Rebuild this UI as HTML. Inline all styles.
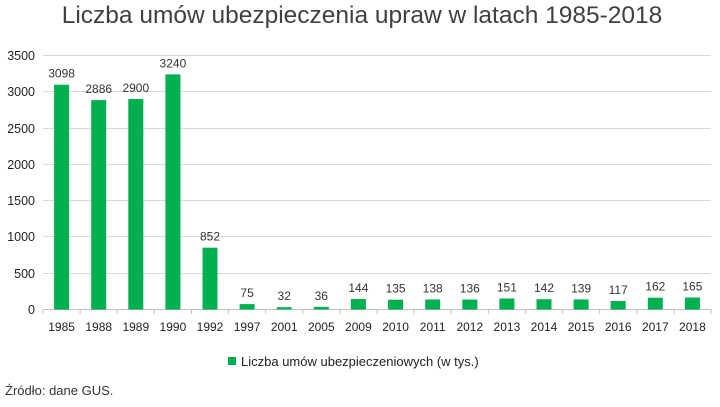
<!DOCTYPE html>
<html><head><meta charset="utf-8"><style>
body{margin:0;background:#fff;width:720px;height:402px;overflow:hidden;font-family:"Liberation Sans",sans-serif}
</style></head><body>
<svg width="720" height="402" xmlns="http://www.w3.org/2000/svg" font-family="Liberation Sans, sans-serif">
<text x="362" y="23" text-anchor="middle" font-size="24.5" fill="#404040">Liczba umów ubezpieczenia upraw w latach 1985-2018</text>
<g stroke="#d9d9d9" stroke-width="1">
<line x1="43" x2="711" y1="55.5" y2="55.5"/>
<line x1="43" x2="711" y1="91.5" y2="91.5"/>
<line x1="43" x2="711" y1="128.5" y2="128.5"/>
<line x1="43" x2="711" y1="164.5" y2="164.5"/>
<line x1="43" x2="711" y1="200.5" y2="200.5"/>
<line x1="43" x2="711" y1="236.5" y2="236.5"/>
<line x1="43" x2="711" y1="273.5" y2="273.5"/>
</g>
<line x1="43" x2="711" y1="309.5" y2="309.5" stroke="#bfbfbf"/>
<g stroke="#bfbfbf">
<line x1="43" x2="43" y1="309.5" y2="314"/><line x1="80.1" x2="80.1" y1="309.5" y2="314"/><line x1="117.2" x2="117.2" y1="309.5" y2="314"/><line x1="154.3" x2="154.3" y1="309.5" y2="314"/><line x1="191.4" x2="191.4" y1="309.5" y2="314"/><line x1="228.6" x2="228.6" y1="309.5" y2="314"/><line x1="265.7" x2="265.7" y1="309.5" y2="314"/><line x1="302.8" x2="302.8" y1="309.5" y2="314"/><line x1="339.9" x2="339.9" y1="309.5" y2="314"/><line x1="377" x2="377" y1="309.5" y2="314"/><line x1="414.1" x2="414.1" y1="309.5" y2="314"/><line x1="451.2" x2="451.2" y1="309.5" y2="314"/><line x1="488.3" x2="488.3" y1="309.5" y2="314"/><line x1="525.4" x2="525.4" y1="309.5" y2="314"/><line x1="562.6" x2="562.6" y1="309.5" y2="314"/><line x1="599.7" x2="599.7" y1="309.5" y2="314"/><line x1="636.8" x2="636.8" y1="309.5" y2="314"/><line x1="673.9" x2="673.9" y1="309.5" y2="314"/><line x1="711" x2="711" y1="309.5" y2="314"/>
</g>
<g font-size="12.5" fill="#222" text-anchor="end">
<text x="35" y="60">3500</text><text x="35" y="96">3000</text><text x="35" y="133">2500</text><text x="35" y="169">2000</text><text x="35" y="205">1500</text><text x="35" y="241">1000</text><text x="35" y="278">500</text><text x="35" y="314">0</text>
</g>
<g fill="#00b050">
<rect x="54.1" y="84.7" width="15" height="224.8"/>
<rect x="91.2" y="100.1" width="15" height="209.4"/>
<rect x="128.3" y="99" width="15" height="210.5"/>
<rect x="165.4" y="74.4" width="15" height="235.1"/>
<rect x="202.5" y="247.7" width="15" height="61.8"/>
<rect x="239.6" y="304.1" width="15" height="5.4"/>
<rect x="276.7" y="307.2" width="15" height="2.3"/>
<rect x="313.8" y="306.9" width="15" height="2.6"/>
<rect x="350.9" y="299" width="15" height="10.5"/>
<rect x="388.1" y="299.7" width="15" height="9.8"/>
<rect x="425.2" y="299.5" width="15" height="10"/>
<rect x="462.3" y="299.6" width="15" height="9.9"/>
<rect x="499.4" y="298.5" width="15" height="11"/>
<rect x="536.5" y="299.2" width="15" height="10.3"/>
<rect x="573.6" y="299.4" width="15" height="10.1"/>
<rect x="610.7" y="301" width="15" height="8.5"/>
<rect x="647.8" y="297.7" width="15" height="11.8"/>
<rect x="684.9" y="297.5" width="15" height="12"/>
</g>
<g fill="#333" font-size="12" text-anchor="middle">
<text x="61.6" y="77.7">3098</text><text x="98.7" y="93.1">2886</text><text x="135.8" y="92">2900</text><text x="172.9" y="67.4">3240</text><text x="210" y="240.7">852</text><text x="247.1" y="297.1">75</text><text x="284.2" y="300.2">32</text><text x="321.3" y="299.9">36</text><text x="358.4" y="292">144</text><text x="395.6" y="292.7">135</text><text x="432.7" y="292.5">138</text><text x="469.8" y="292.6">136</text><text x="506.9" y="291.5">151</text><text x="544" y="292.2">142</text><text x="581.1" y="292.4">139</text><text x="618.2" y="294">117</text><text x="655.3" y="290.7">162</text><text x="692.4" y="290.5">165</text>
</g>
<g fill="#222" font-size="12" text-anchor="middle">
<text x="61.6" y="331">1985</text><text x="98.7" y="331">1988</text><text x="135.8" y="331">1989</text><text x="172.9" y="331">1990</text><text x="210" y="331">1992</text><text x="247.1" y="331">1997</text><text x="284.2" y="331">2001</text><text x="321.3" y="331">2005</text><text x="358.4" y="331">2009</text><text x="395.6" y="331">2010</text><text x="432.7" y="331">2011</text><text x="469.8" y="331">2012</text><text x="506.9" y="331">2013</text><text x="544" y="331">2014</text><text x="581.1" y="331">2015</text><text x="618.2" y="331">2016</text><text x="655.3" y="331">2017</text><text x="692.4" y="331">2018</text>
</g>
<rect x="228" y="357" width="8" height="8" fill="#00b050"/>
<text x="241" y="366" font-size="13" fill="#222">Liczba umów ubezpieczeniowych (w tys.)</text>
<text x="5" y="395" font-size="13" fill="#333">Źródło: dane GUS.</text>
</svg>
</body></html>
